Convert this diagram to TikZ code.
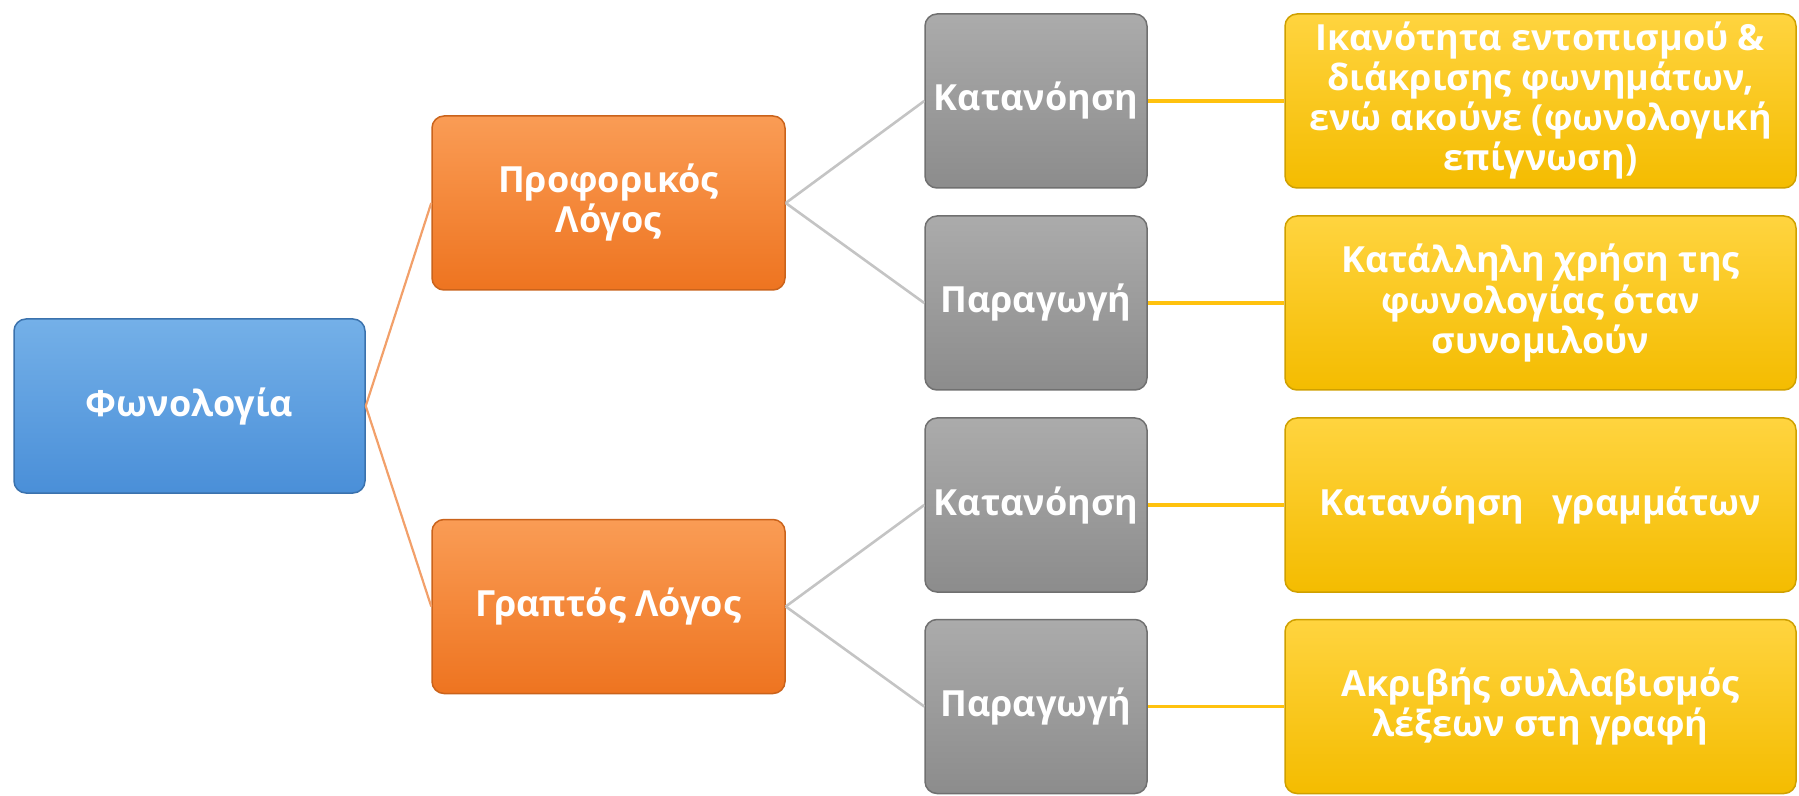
\documentclass[tikz,border=0pt]{standalone}
\usepackage{fontspec}
\setmainfont{Open Sans}

\definecolor{blueTop}{HTML}{74B0E8}
\definecolor{blueBot}{HTML}{4A8FD8}
\definecolor{orangeTop}{HTML}{FA9C55}
\definecolor{orangeBot}{HTML}{EE7420}
\definecolor{grayTop}{HTML}{ABABAB}
\definecolor{grayBot}{HTML}{8C8C8C}
\definecolor{yellowTop}{HTML}{FFD43F}
\definecolor{yellowBot}{HTML}{F4BC00}
\definecolor{orangeLine}{HTML}{F2A06A}
\definecolor{grayLine}{HTML}{C4C4C4}
\definecolor{yellowLine}{HTML}{FFC20E}

\tikzset{every picture/.style={line width=0.75pt}}
\tikzset{
  box/.style={rounded corners=6pt, minimum height=87pt, align=center, text=white,
    font=\bfseries\fontsize{18}{20}\selectfont, inner sep=1pt},
  rootbox/.style={box, top color=blueTop, bottom color=blueBot, draw=blueBot!80!black, minimum width=175.5pt},
  midbox/.style={box, top color=orangeTop, bottom color=orangeBot, draw=orangeBot!85!black, minimum width=176.5pt},
  subbox/.style={box, top color=grayTop, bottom color=grayBot, draw=grayBot!80!black, minimum width=111pt},
  leafbox/.style={box, top color=yellowTop, bottom color=yellowBot, draw=yellowBot!85!black, minimum width=255.5pt},
  orangelink/.style={orangeLine, line width=1.1pt},
  graylink/.style={grayLine, line width=1.3pt},
  yellowlink/.style={yellowLine, line width=1.6pt}
}

\begin{document}
\begin{tikzpicture}[x=0.5pt,y=0.5pt,yscale=-1]
  \useasboundingbox (0,0) rectangle (1799,796);

  % Text Node
  \node [rootbox] (phon) at (189.5,406) {Φωνολογία};
  % Text Node
  \node [midbox] (oral) at (608.5,203) {Προφορικός\\Λόγος};
  % Text Node
  \node [midbox] (writ) at (608.5,606.5) {Γραπτός Λόγος};

  % Text Node
  \node [subbox] (oralC) at (1036,101) {Κατανόηση};
  % Text Node
  \node [subbox] (oralP) at (1036,303) {Παραγωγή};
  % Text Node
  \node [subbox] (writC) at (1036,505) {Κατανόηση};
  % Text Node
  \node [subbox] (writP) at (1036,706.5) {Παραγωγή};

  % Text Node
  \node [leafbox] (leafA) at (1540.5,101) {Ικανότητα εντοπισμού \&\\διάκρισης φωνημάτων,\\ενώ ακούνε (φωνολογική\\επίγνωση)};
  % Text Node
  \node [leafbox] (leafB) at (1540.5,303) {Κατάλληλη χρήση της\\φωνολογίας όταν\\συνομιλούν};
  % Text Node
  \node [leafbox] (leafC) at (1540.5,505) {Κατανόηση\ \ \ γραμμάτων};
  % Text Node
  \node [leafbox] (leafD) at (1540.5,706.5) {Ακριβής συλλαβισμός\\λέξεων στη γραφή};

  %Straight Lines
  \draw [orangelink] (phon.east) -- (oral.west);
  \draw [orangelink] (phon.east) -- (writ.west);

  %Straight Lines
  \draw [graylink] (oral.east) -- (oralC.west);
  \draw [graylink] (oral.east) -- (oralP.west);
  \draw [graylink] (writ.east) -- (writC.west);
  \draw [graylink] (writ.east) -- (writP.west);

  %Straight Lines
  \draw [yellowlink] (oralC.east) -- (leafA.west);
  \draw [yellowlink] (oralP.east) -- (leafB.west);
  \draw [yellowlink] (writC.east) -- (leafC.west);
  \draw [yellowlink] (writP.east) -- (leafD.west);

\end{tikzpicture}
\end{document}
